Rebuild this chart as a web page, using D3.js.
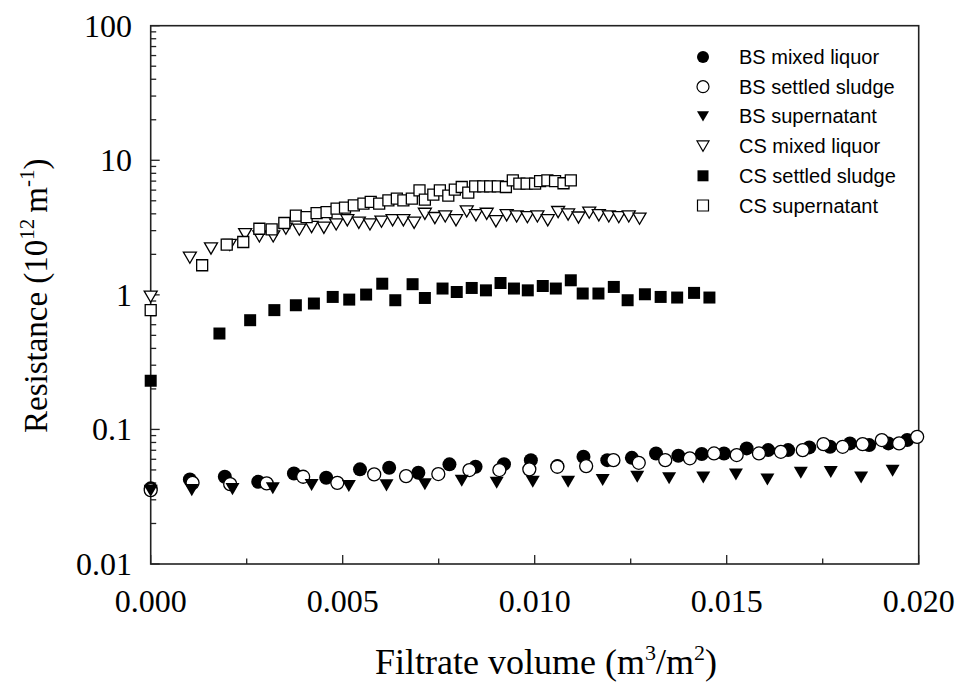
<!DOCTYPE html>
<html>
<head>
<meta charset="utf-8">
<script src="https://cdn.jsdelivr.net/npm/d3@7"></script>
<style>
  body { margin: 0; background: #fff; }
  svg { display: block; }
</style>
</head>
<body>
<div id="chart"></div>
<script>
// 数据：每个系列一组 x（滤液体积）和一组 y（阻力）
var bsMixedX = [0, 0.00102, 0.00193, 0.0028, 0.00373, 0.00457, 0.00545, 0.00621, 0.00697, 0.00778,
  0.00846, 0.0092, 0.0099, 0.01059, 0.01127, 0.01189, 0.01253, 0.01316, 0.01374, 0.01435,
  0.01493, 0.01552, 0.01608, 0.0166, 0.01715, 0.01769, 0.01821, 0.01871, 0.01921, 0.0197];
var bsMixedY = [0.0365, 0.0425, 0.0445, 0.0408, 0.0471, 0.0437, 0.0505, 0.0519, 0.0476, 0.055,
  0.0528, 0.0552, 0.0591, 0.0534, 0.0626, 0.0591, 0.0615, 0.0663, 0.0637, 0.0656,
  0.0663, 0.0723, 0.0702, 0.0702, 0.0735, 0.0743, 0.0787, 0.0765, 0.0787, 0.0834];

var bsSettledX = [0, 0.00109, 0.00207, 0.00302, 0.00397, 0.00486, 0.00582, 0.00665, 0.00749, 0.0083,
  0.00908, 0.00986, 0.01059, 0.01134, 0.01205, 0.01271, 0.0134, 0.01404, 0.01467, 0.01526,
  0.01584, 0.01641, 0.01698, 0.01752, 0.01802, 0.01854, 0.01904, 0.01949, 0.01996];
var bsSettledY = [0.0354, 0.0401, 0.0392, 0.0397, 0.0445, 0.0401, 0.0463, 0.045, 0.0466, 0.0499,
  0.0499, 0.0505, 0.0528, 0.0534, 0.0591, 0.0565, 0.0591, 0.061, 0.0663, 0.0645,
  0.0663, 0.0682, 0.0702, 0.0778, 0.0743, 0.0778, 0.0834, 0.0787, 0.0881];

var bsSuperX = [0, 0.00107, 0.00213, 0.00318, 0.00419, 0.00516, 0.00614, 0.00714, 0.0081, 0.00901,
  0.00995, 0.01087, 0.01177, 0.01267, 0.0135, 0.01439, 0.01524, 0.01606, 0.01693, 0.01771,
  0.0185, 0.01932];
var bsSuperY = [0.035, 0.0354, 0.036, 0.0365, 0.0386, 0.038, 0.0384, 0.0392, 0.0415, 0.0401,
  0.0408, 0.0408, 0.0421, 0.0445, 0.0433, 0.044, 0.0463, 0.0425, 0.0476, 0.0482,
  0.044, 0.0493];

var csMixedX = [0, 0.00102, 0.00157, 0.00206, 0.00246, 0.00283, 0.00319, 0.00352, 0.00387, 0.00419,
  0.00451, 0.00483, 0.00512, 0.00542, 0.00571, 0.00601, 0.0063, 0.00658, 0.00686, 0.00714,
  0.0074, 0.00767, 0.00795, 0.00823, 0.00847, 0.00875, 0.00899, 0.00927, 0.00953, 0.00981,
  0.01007, 0.01034, 0.01061, 0.01087, 0.01114, 0.01142, 0.01167, 0.01193, 0.01219, 0.01245,
  0.01273];
var csMixedY = [0.97, 1.89, 2.21, 2.35, 2.82, 2.72, 2.72, 3.1, 3.05, 3.19,
  3.15, 3.34, 3.58, 3.43, 3.34, 3.5, 3.58, 3.58, 3.43, 4.0,
  3.72, 3.83, 3.58, 4.17, 3.9, 4.0, 3.52, 3.9, 3.83, 3.78,
  3.83, 3.58, 4.12, 3.95, 3.75, 4.08, 3.9, 3.83, 3.78, 3.83,
  3.68];

var csSettledX = [0, 0.00179, 0.00259, 0.00322, 0.00378, 0.00425, 0.00474, 0.00517, 0.00561, 0.00603,
  0.00637, 0.00682, 0.00714, 0.0076, 0.00797, 0.00836, 0.00873, 0.00911, 0.00946, 0.00982,
  0.01021, 0.01055, 0.01094, 0.01125, 0.01166, 0.01206, 0.01242, 0.01287, 0.01328, 0.01371,
  0.01415, 0.01455];
var csSettledY = [0.23, 0.516, 0.648, 0.77, 0.837, 0.862, 0.965, 0.922, 1.005, 1.21,
  0.912, 1.2, 0.948, 1.114, 1.05, 1.125, 1.08, 1.225, 1.114, 1.08,
  1.164, 1.114, 1.283, 1.023, 1.023, 1.145, 0.912, 1.01, 0.965, 0.955,
  1.034, 0.955];

var csSuperX = [0, 0.00134, 0.00198, 0.00241, 0.00283, 0.00315, 0.00348, 0.00378, 0.00406, 0.00432,
  0.00458, 0.00484, 0.00506, 0.00529, 0.00554, 0.00573, 0.00595, 0.00619, 0.00641, 0.00658,
  0.0068, 0.007, 0.00714, 0.00736, 0.00753, 0.00775, 0.00792, 0.0081, 0.00827, 0.00845,
  0.00866, 0.00884, 0.00904, 0.00925, 0.00943, 0.0096, 0.00979, 0.01001, 0.01014, 0.01033,
  0.01053, 0.01075, 0.01094];
var csSuperY = [0.77, 1.66, 2.36, 2.47, 3.1, 3.07, 3.42, 3.88, 3.78, 4.05,
  4.12, 4.37, 4.45, 4.62, 4.77, 4.9, 4.77, 5.04, 5.19, 5.04,
  5.19, 5.98, 5.1, 5.56, 5.98, 5.47, 6.06, 6.33, 5.75, 6.4,
  6.4, 6.4, 6.4, 6.33, 7.1, 6.7, 6.7, 6.7, 7.0, 7.1,
  7.0, 6.75, 7.1];

var seriesNames = ['BS mixed liquor', 'BS settled sludge', 'BS supernatant',
  'CS mixed liquor', 'CS settled sludge', 'CS supernatant'];
var xTicks = [0, 0.005, 0.01, 0.015, 0.02];
var yTicks = [0.01, 0.1, 1, 10, 100];

(function () {
  var width = 964, height = 687;
  var left = 150.7, right = 918.7, top = 25.7, bottom = 564;

  var svg = d3.select('#chart').append('svg')
    .attr('width', width)
    .attr('height', height);

  var x = d3.scaleLinear().domain([0, 0.02]).range([left, right]);
  var y = d3.scaleLog().domain([0.01, 100]).range([bottom, top]);

  // 标记形状：圆、倒三角、方块
  function markerPath(shape, s) {
    if (shape === 'circle') {
      return d3.symbol().type(d3.symbolCircle).size(Math.PI * s * s / 4)();
    }
    if (shape === 'triangle') {
      var w = s * 0.5, h = s * 0.43;
      return 'M' + (-w) + ',' + (-h) + 'L' + w + ',' + (-h) + 'L0,' + h + 'Z';
    }
    var q = s / 2;
    return 'M' + (-q) + ',' + (-q) + 'H' + q + 'V' + q + 'H' + (-q) + 'Z';
  }

  var series = [
    { xs: bsMixedX, ys: bsMixedY, shape: 'circle', filled: true, size: 14 },
    { xs: bsSettledX, ys: bsSettledY, shape: 'circle', filled: false, size: 13 },
    { xs: bsSuperX, ys: bsSuperY, shape: 'triangle', filled: true, size: 14 },
    { xs: csMixedX, ys: csMixedY, shape: 'triangle', filled: false, size: 13 },
    { xs: csSettledX, ys: csSettledY, shape: 'square', filled: true, size: 12 },
    { xs: csSuperX, ys: csSuperY, shape: 'square', filled: false, size: 11 }
  ];

  // 刻度线（朝内）
  var axisG = svg.append('g').attr('stroke', '#222').attr('stroke-width', 1.3);
  var minorX = d3.range(0, 0.02001, 0.0025);
  axisG.selectAll('line.xt')
    .data(minorX)
    .enter()
    .append('line')
    .attr('x1', function (d) { return x(d); })
    .attr('x2', function (d) { return x(d); })
    .attr('y1', bottom)
    .attr('y2', function (d, i) { return bottom - (i % 2 === 0 ? 9 : 5.5); });

  var yMinor = [];
  for (var e = -2; e < 2; e++) {
    for (var m = 1; m < 10; m++) {
      yMinor.push({ v: m * Math.pow(10, e), major: m === 1 });
    }
  }
  yMinor.push({ v: 100, major: true });
  axisG.selectAll('line.yt')
    .data(yMinor)
    .enter()
    .append('line')
    .attr('x1', left)
    .attr('x2', function (d) { return left + (d.major ? 9 : 5.5); })
    .attr('y1', function (d) { return y(d.v); })
    .attr('y2', function (d) { return y(d.v); });

  // 外框
  svg.append('rect')
    .attr('x', left)
    .attr('y', top)
    .attr('width', right - left)
    .attr('height', bottom - top)
    .attr('fill', 'none')
    .attr('stroke', '#222')
    .attr('stroke-width', 1.6);

  // 数据点
  series.forEach(function (s) {
    var pts = s.xs.map(function (v, i) { return [v, s.ys[i]]; });
    svg.append('g')
      .selectAll('path')
      .data(pts)
      .enter()
      .append('path')
      .attr('transform', function (d) { return 'translate(' + x(d[0]) + ',' + y(d[1]) + ')'; })
      .attr('d', markerPath(s.shape, s.size))
      .attr('fill', s.filled ? '#000' : '#fff')
      .attr('stroke', '#000')
      .attr('stroke-width', s.filled ? 0 : 1.3);
  });

  // 刻度文字
  var serif = "'Liberation Serif', 'Times New Roman', serif";
  svg.append('g')
    .selectAll('text')
    .data(xTicks)
    .enter()
    .append('text')
    .attr('x', function (d) { return x(d); })
    .attr('y', 612)
    .attr('text-anchor', 'middle')
    .attr('font-family', serif)
    .attr('font-size', 32)
    .text(function (d) { return d3.format('.3f')(d); });

  svg.append('g')
    .selectAll('text')
    .data(yTicks)
    .enter()
    .append('text')
    .attr('x', 132)
    .attr('y', function (d) { return y(d) + 11; })
    .attr('text-anchor', 'end')
    .attr('font-family', serif)
    .attr('font-size', 32)
    .text(function (d) { return String(d); });

  // 坐标轴标题
  var xt = svg.append('text')
    .attr('x', 375)
    .attr('y', 674)
    .attr('font-family', serif)
    .attr('font-size', 36);
  xt.append('tspan').text('Filtrate volume (m');
  xt.append('tspan').attr('font-size', 22).attr('dy', -14).text('3');
  xt.append('tspan').attr('dy', 14).text('/m');
  xt.append('tspan').attr('font-size', 22).attr('dy', -14).text('2');
  xt.append('tspan').attr('dy', 14).text(')');

  var yt = svg.append('text')
    .attr('transform', 'translate(47,433) rotate(-90)')
    .attr('x', 0)
    .attr('y', 0)
    .attr('font-family', serif)
    .attr('font-size', 33);
  yt.append('tspan').text('Resistance (10');
  yt.append('tspan').attr('font-size', 21).attr('dy', -13).text('12');
  yt.append('tspan').attr('dy', 13).attr('dx', 6).text('m');
  yt.append('tspan').attr('font-size', 21).attr('dy', -13).text('-1');
  yt.append('tspan').attr('dy', 13).text(')');

  // 图例
  var legend = svg.append('g')
    .selectAll('g')
    .data(series)
    .enter()
    .append('g')
    .attr('transform', function (d, i) { return 'translate(703,' + (57 + i * 29.7) + ')'; });
  legend.append('path')
    .attr('d', function (d) { return markerPath(d.shape, d.shape === 'square' ? 11 : 12); })
    .attr('fill', function (d) { return d.filled ? '#000' : '#fff'; })
    .attr('stroke', '#000')
    .attr('stroke-width', function (d) { return d.filled ? 0 : 1.2; });
  legend.append('text')
    .attr('x', 36)
    .attr('y', 7)
    .attr('font-family', "'Liberation Sans', Arial, sans-serif")
    .attr('font-size', 20)
    .text(function (d, i) { return seriesNames[i]; });
})();
</script>
</body>
</html>
